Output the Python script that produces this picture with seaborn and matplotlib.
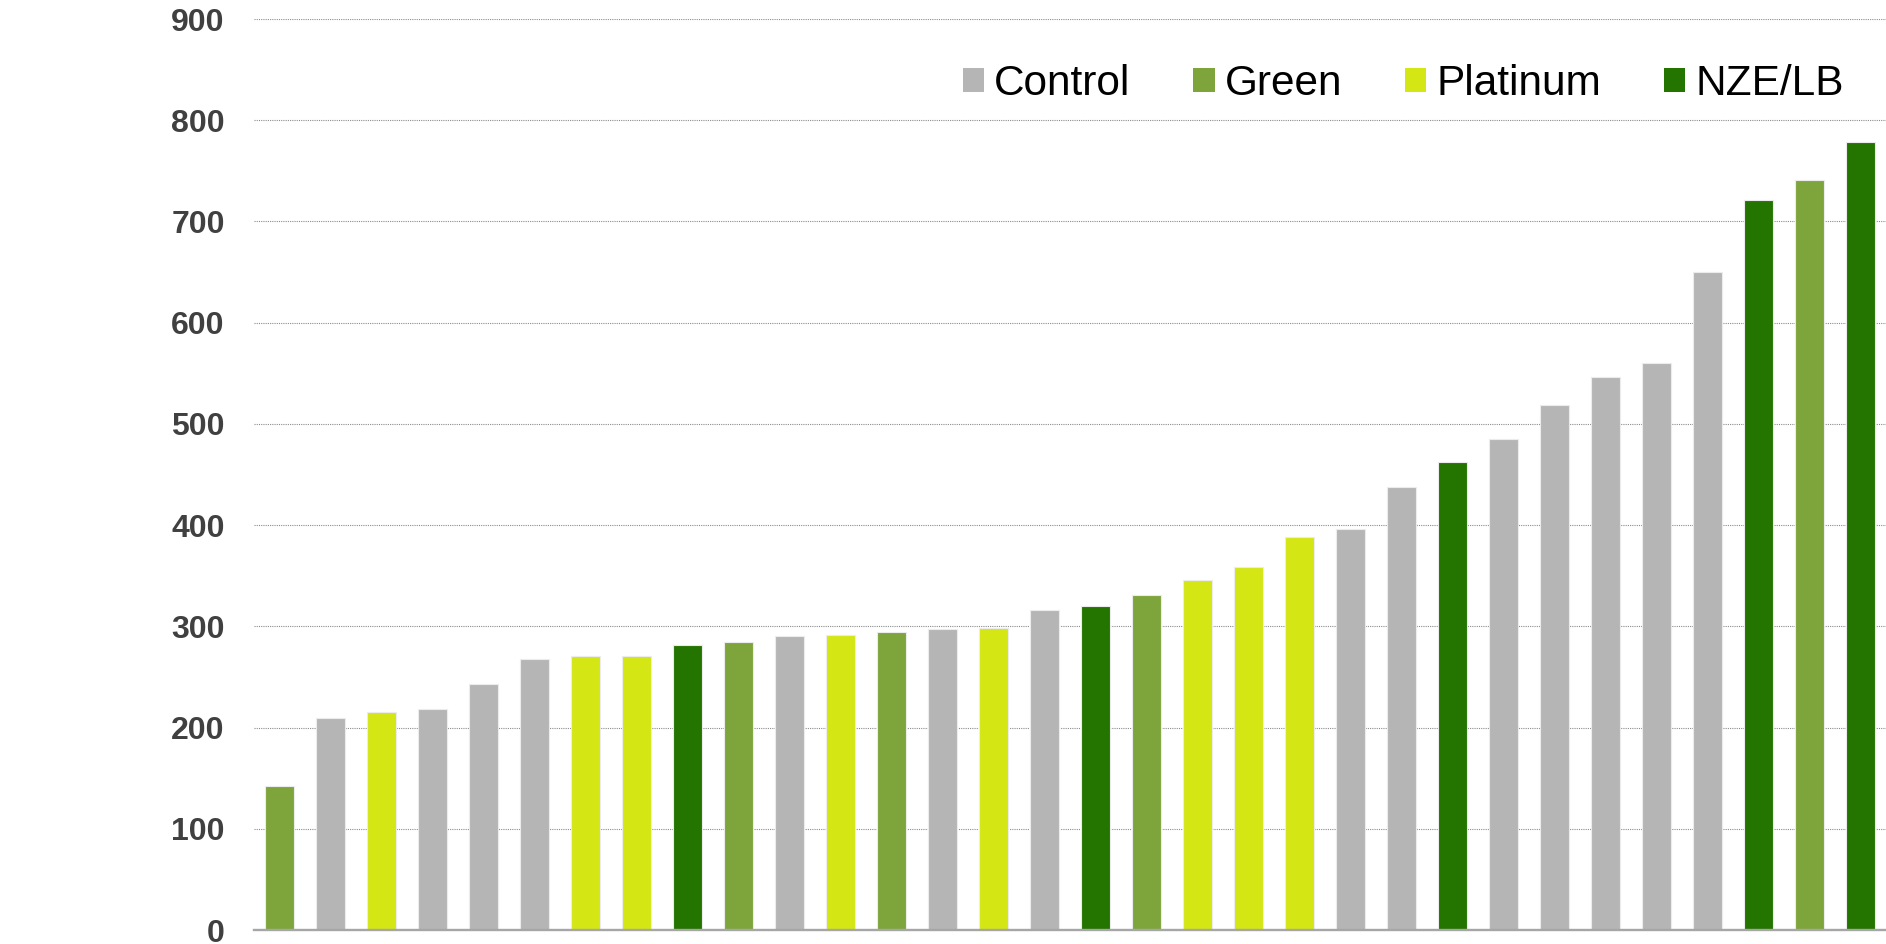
import matplotlib
matplotlib.use("Agg")
import matplotlib.pyplot as plt
from matplotlib.patches import Patch
import seaborn as sns
import pandas as pd

# Building groups, in the order the bars are drawn (sorted by value)
groups = [
    "Green", "Control", "Platinum", "Control", "Control", "Control", "Platinum", "Platinum",
    "NZE/LB", "Green", "Control", "Platinum", "Green", "Control", "Platinum", "Control",
    "NZE/LB", "Green", "Platinum", "Platinum", "Platinum", "Control", "Control", "NZE/LB",
    "Control", "Control", "Control", "Control", "Control", "NZE/LB", "Green", "NZE/LB",
]
values = [
    142, 209, 215, 218, 243, 268, 271, 271,
    282, 285, 290, 291, 294, 297, 298, 316,
    320, 331, 346, 359, 388, 396, 438, 462,
    485, 519, 546, 560, 650, 721, 741, 778,
]
group_order = ["Control", "Green", "Platinum", "NZE/LB"]
group_colors = ["#b5b5b5", "#7ea53b", "#d4e614", "#247400"]
y_ticks = [0, 100, 200, 300, 400, 500, 600, 700, 800, 900]

df = pd.DataFrame({
    "building": [str(i) for i in range(len(values))],
    "group": groups,
    "value": values,
})
palette = dict(zip(group_order, group_colors))

sns.set_theme(style="white")
plt.rcParams["font.family"] = ["Liberation Sans", "DejaVu Sans"]

fig = plt.figure(figsize=(18.86, 9.44), dpi=100)
ax = fig.add_axes([254 / 1886, 14 / 944, 1 - 254 / 1886, 911 / 944])

sns.barplot(
    data=df, x="building", y="value", hue="group", hue_order=group_order,
    palette=palette, dodge=False, width=0.57, legend=False, ax=ax,
    linewidth=0.8, edgecolor="#ececec", saturation=1,
)

ax.set_xlim(-0.5, len(values) - 0.5)
ax.set_ylim(0, 900)
ax.set_yticks(y_ticks)
ax.set_yticklabels([str(t) for t in y_ticks])
ax.set_xticks([])
ax.set_xlabel("")
ax.set_ylabel("")

ax.set_axisbelow(True)
ax.yaxis.grid(True, color="#8c8c8c", linestyle=(0, (1, 1)), linewidth=0.8)
ax.xaxis.grid(False)

for side in ["top", "right", "left"]:
    ax.spines[side].set_visible(False)
ax.spines["bottom"].set_color("#a6a6a6")
ax.spines["bottom"].set_linewidth(1.7)

ax.tick_params(axis="y", length=0, pad=21, labelsize=23, labelcolor="#404040")
for lbl in ax.get_yticklabels():
    lbl.set_fontweight("bold")

handles = [Patch(facecolor=c, edgecolor="none", label=g) for g, c in zip(group_order, group_colors)]
fig.legend(
    handles=handles, loc="center left", ncol=4, frameon=False,
    bbox_to_anchor=(963 / 1886, 1 - 84 / 944), bbox_transform=fig.transFigure,
    fontsize=30.5, handlelength=0.5, handleheight=0.5, handletextpad=0.24,
    columnspacing=1.48, borderpad=0, borderaxespad=0, labelcolor="black",
)

fig.savefig("out.png", dpi=100, facecolor="white")
